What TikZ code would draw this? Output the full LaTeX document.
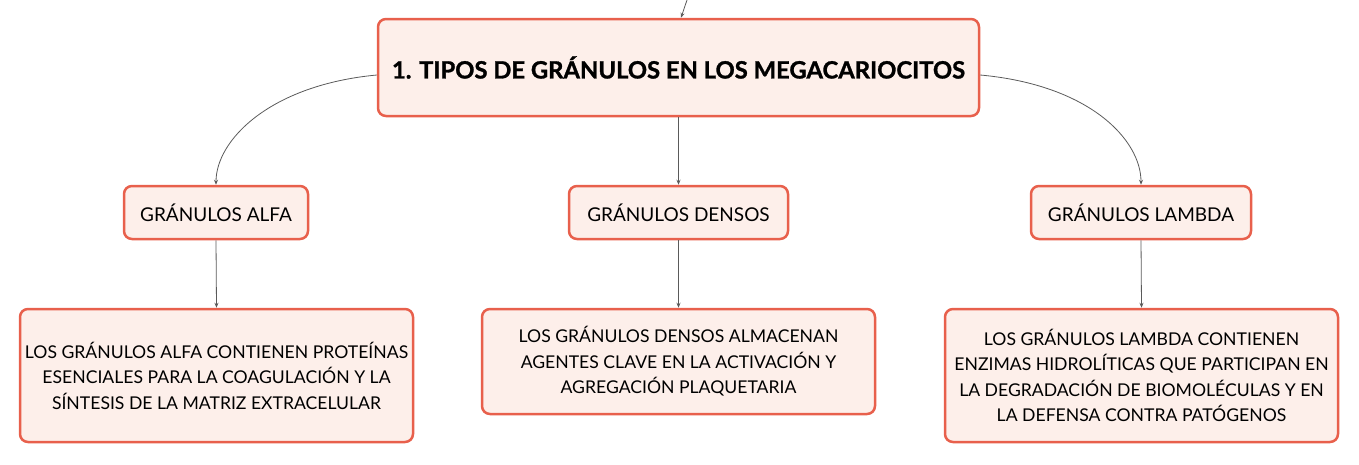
\documentclass[tikz,border=0pt]{standalone}
\usepackage{fontspec}
\setmainfont{Lato}
\newfontfamily\titlefont[BoldFeatures={FakeBold=1.2}]{Lato}
\usetikzlibrary{arrows.meta}
\definecolor{boxfill}{HTML}{FDEFEA}
\definecolor{boxline}{HTML}{E8604C}
\definecolor{conn}{HTML}{5A5A5A}
\tikzset{
  box/.style={draw=boxline, line width=2.5pt, fill=boxfill, rounded corners=8pt, align=center, inner sep=0pt},
  conn/.style={draw=conn, line width=0.8pt, -{Stealth[length=5pt,width=4pt]}},
}
\begin{document}
\begin{tikzpicture}[x=1pt,y=-1pt]
\useasboundingbox (0,0) rectangle (1359,464);
\node[box, minimum width=601pt, minimum height=97pt, font=\titlefont\bfseries\fontsize{23.8}{28}\selectfont] (root) at (678.5,67.5) {1. TIPOS DE GRÁNULOS EN LOS MEGACARIOCITOS};
\node[box, minimum width=184pt, minimum height=53pt, font=\fontsize{19}{22}\selectfont] (alfa) at (216,212.5) {GRÁNULOS ALFA};
\node[box, minimum width=219pt, minimum height=53pt, font=\fontsize{19}{22}\selectfont] (densos) at (678.5,212.5) {GRÁNULOS DENSOS};
\node[box, minimum width=220pt, minimum height=53pt, font=\fontsize{19}{22}\selectfont] (lambda) at (1141,212.5) {GRÁNULOS LAMBDA};
\node[box, minimum width=393pt, minimum height=133pt, font=\fontsize{17.6}{25.5}\selectfont] (alfad) at (216.5,375.5) {LOS GRÁNULOS ALFA CONTIENEN PROTEÍNAS\\ESENCIALES PARA LA COAGULACIÓN Y LA\\SÍNTESIS DE LA MATRIZ EXTRACELULAR};
\node[box, minimum width=393pt, minimum height=105pt, font=\fontsize{17.6}{25.5}\selectfont] (densosd) at (678.5,361.5) {LOS GRÁNULOS DENSOS ALMACENAN\\AGENTES CLAVE EN LA ACTIVACIÓN Y\\AGREGACIÓN PLAQUETARIA};
\node[box, minimum width=393pt, minimum height=133pt, font=\fontsize{17.6}{25.5}\selectfont] (lambdad) at (1141.5,375.5) {LOS GRÁNULOS LAMBDA CONTIENEN\\ENZIMAS HIDROLÍTICAS QUE PARTICIPAN EN\\LA DEGRADACIÓN DE BIOMOLÉCULAS Y EN\\LA DEFENSA CONTRA PATÓGENOS};
\coordinate (top) at (687,0);
\draw[conn] (top) -- (root.north -| 681,0);
\draw[conn] (root.west |- 0,75) .. controls (270,85) and (216,140) .. (alfa.north);
\draw[conn] (root.east |- 0,75) .. controls (1090,85) and (1141,140) .. (lambda.north);
\draw[conn] (root.south) -- (densos.north);
\draw[conn] (alfa.south) -- (alfad.north);
\draw[conn] (densos.south) -- (densosd.north);
\draw[conn] (lambda.south) -- (lambdad.north);
\end{tikzpicture}
\end{document}
